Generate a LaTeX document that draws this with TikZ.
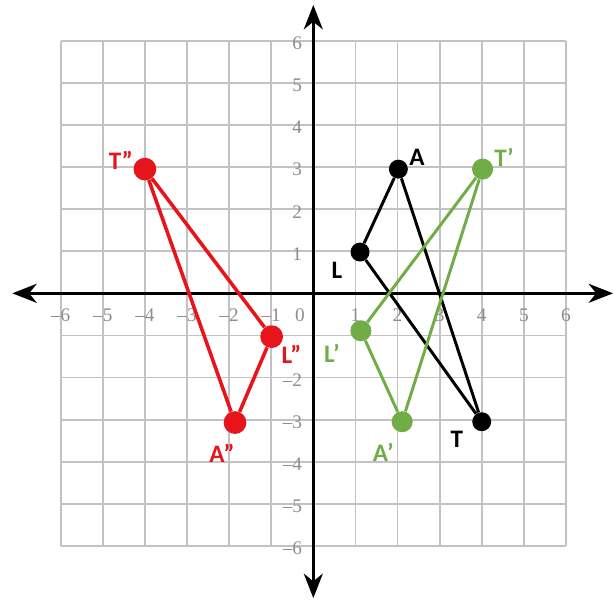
\documentclass[tikz,border=0pt]{standalone}
\usepackage{fontspec}
\setmainfont{Liberation Serif}
\newfontfamily\lblfont{Carlito}
\usepackage{tikz}
\usepackage{xcolor}
\usetikzlibrary{arrows.meta}
\definecolor{ptred}{HTML}{E8141C}
\definecolor{ptgreen}{HTML}{70AD47}
\definecolor{gridgray}{HTML}{C2C2C2}
\definecolor{tickgray}{HTML}{8C8C8C}
\tikzset{
  dotnode/.style={circle,inner sep=0pt,minimum size=#1},
  ptlabel/.style={font=\lblfont\bfseries\fontsize{17}{20}\selectfont,inner sep=0pt},
  ticklabel/.style={font=\fontsize{13}{15}\selectfont,text=tickgray,inner sep=0pt}
}

\begin{document}
\begin{tikzpicture}[>={Stealth[length=0.58cm,width=0.45cm,inset=0.18cm]}]
    \useasboundingbox (-7.442,-7.309) rectangle (7.166,6.967);
    \draw[gridgray,line width=1.2pt] (-6,-6) grid (6,6);
    \foreach \i in {1,...,6}{
      \node[ticklabel] at (\i,-0.52){\i};
      \node[ticklabel] at (-\i,-0.52){–\i};
      \node[ticklabel,anchor=east] at (-0.26,\i-0.06){\i};
    }
    \foreach \i in {2,...,6}
      \node[ticklabel,anchor=east] at (-0.26,-\i-0.06){–\i};
    \node[ticklabel] at (-0.32,-0.52){0};
    \coordinate (xmin) at (-7.15,0);\coordinate (xmax) at (7.12,0);
    \coordinate (ymin) at (0,-7.24);\coordinate (ymax) at (0,6.85);
    \draw[<->,line width=2pt] (xmin) -- (xmax);
    \draw[<->,line width=2pt] (ymin) -- (ymax);
    \begin{scope}[every node/.style={dotnode=0.45cm,fill=black}]
      \node (A) at (2.02,2.95){};
      \node (L) at (1.11,0.98){};
      \node (T) at (4,-3.05){};
    \end{scope}
    \begin{scope}[every node/.style={dotnode=0.5cm,fill=ptgreen}]
      \node (Ap) at (2.11,-3.05){};
      \node (Lp) at (1.13,-0.89){};
      \node (Tp) at (4.02,2.95){};
    \end{scope}
    \begin{scope}[every node/.style={dotnode=0.54cm,fill=ptred}]
      \node (App) at (-1.86,-3.07){};
      \node (Lpp) at (-0.99,-1.03){};
      \node (Tpp) at (-4,2.95){};
    \end{scope}
    \draw[line width=2pt] (A) -- (L) -- (T) -- (A);
    \draw[ptgreen,line width=2pt] (Tp) -- (Lp) -- (Ap) -- (Tp);
    \draw[ptred,line width=2.4pt] (Tpp) -- (Lpp) -- (App) -- (Tpp);
    \node[ptlabel] (lA) at (2.46,3.24){A};
    \node[ptlabel] (lL) at (0.56,0.55){L};
    \node[ptlabel] (lT) at (3.41,-3.48){T};
    \node[ptlabel,text=ptgreen] (lAp) at (1.66,-3.77){A’};
    \node[ptlabel,text=ptgreen] (lLp) at (0.44,-1.42){L’};
    \node[ptlabel,text=ptgreen] (lTp) at (4.53,3.24){T’};
    \node[ptlabel,text=ptred] (lApp) at (-2.17,-3.79){A”};
    \node[ptlabel,text=ptred] (lLpp) at (-0.52,-1.46){L”};
    \node[ptlabel,text=ptred] (lTpp) at (-4.57,3.17){T”};
  \end{tikzpicture}
\end{document}
